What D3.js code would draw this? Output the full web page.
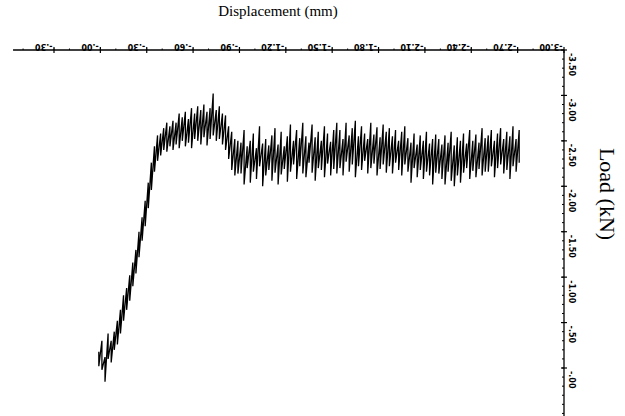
<!DOCTYPE html>
<html lang="en">
<head>
    <meta charset="UTF-8">
    <title>Load vs Displacement</title>
    <script src="https://d3js.org/d3.v7.min.js"></script>
    <style>
        body { margin: 0; background: #fff; }
        svg { display: block; }
    </style>
</head>
<body>
    <div id="chart"></div>

    <script>
        // tick values and the labels as printed (plot is shown rotated)
        var xTickValues = [0.30, 0, -0.30, -0.60, -0.90, -1.20, -1.50, -1.80, -2.10, -2.40, -2.70, -3.00];
        var xTickLabels = ["-.30", "-.00", "-.30", "-.60", "-.90", "-1.20", "-1.50", "-1.80", "-2.10", "-2.40", "-2.70", "-3.00"];
        var yTickValues = [-3.50, -3.00, -2.50, -2.00, -1.50, -1.00, -0.50, 0];
        var yTickLabels = ["-3.50", "-3.00", "-2.50", "-2.00", "-1.50", "-1.00", "-.50", "-.00"];

        // displacement (mm) of each recorded column
        var displacement = [
            0.01, -0.01, -0.03, -0.05, -0.07, -0.09,
            -0.11, -0.13, -0.15, -0.17, -0.19, -0.21, -0.23, -0.25, -0.27, -0.29, -0.31, -0.33, -0.35, -0.37,
            -0.39, -0.41, -0.43, -0.45, -0.47, -0.49, -0.51, -0.53, -0.55, -0.57, -0.59, -0.61, -0.63, -0.65, -0.67, -0.69, -0.71, -0.73,
            -0.75, -0.77, -0.79, -0.81, -0.83, -0.85, -0.87, -0.89,
            -0.91, -0.93, -0.95, -0.97, -0.99, -1.01, -1.03, -1.05, -1.07, -1.09, -1.11, -1.13, -1.15, -1.17, -1.19, -1.21,
            -1.23, -1.25, -1.27, -1.29, -1.31, -1.33, -1.35, -1.37, -1.39, -1.41, -1.43, -1.45, -1.47, -1.49, -1.51, -1.53,
            -1.55, -1.57, -1.59, -1.61, -1.63, -1.65, -1.67, -1.69, -1.71, -1.73, -1.75, -1.77, -1.79, -1.81, -1.83, -1.85,
            -1.87, -1.89, -1.91, -1.93, -1.95, -1.97, -1.99, -2.01, -2.03, -2.05, -2.07, -2.09, -2.11, -2.13, -2.15, -2.17,
            -2.19, -2.21, -2.23, -2.25, -2.27, -2.29, -2.31, -2.33, -2.35, -2.37, -2.39, -2.41, -2.43, -2.45, -2.47, -2.49,
            -2.51, -2.53, -2.55, -2.57, -2.59, -2.61, -2.63, -2.65, -2.67, -2.69, -2.71
        ];

        // most negative load (kN) reached in each column (top of the noisy band)
        var loadHigh = [
            -0.18, -0.30, -0.12, -0.38, -0.30, -0.40,
            -0.52, -0.64, -0.80, -0.88, -1.02, -1.16, -1.30, -1.50, -1.66, -1.84, -2.04, -2.26, -2.44, -2.56,
            -2.58, -2.64, -2.70, -2.66, -2.72, -2.70, -2.80, -2.76, -2.82, -2.74, -2.86, -2.80, -2.88, -2.84, -2.90, -2.82, -2.86, -3.02,
            -2.84, -2.88, -2.80, -2.78, -2.66, -2.60, -2.52, -2.50,
            -2.48, -2.62, -2.44, -2.50, -2.58, -2.42, -2.66, -2.47, -2.52, -2.45, -2.56, -2.64, -2.46, -2.60, -2.44, -2.55,
            -2.68, -2.50, -2.62, -2.53, -2.70, -2.55, -2.48, -2.68, -2.54, -2.60, -2.50, -2.66, -2.58, -2.49, -2.62, -2.70,
            -2.62, -2.52, -2.70, -2.56, -2.64, -2.72, -2.55, -2.66, -2.58, -2.52, -2.70, -2.57, -2.65, -2.54, -2.68, -2.60,
            -2.64, -2.55, -2.62, -2.50, -2.60, -2.66, -2.53, -2.48, -2.58, -2.46, -2.56, -2.50, -2.60, -2.47, -2.52, -2.57,
            -2.52, -2.46, -2.56, -2.48, -2.60, -2.45, -2.54, -2.50, -2.58, -2.47, -2.62, -2.50, -2.57, -2.48, -2.64, -2.53,
            -2.56, -2.62, -2.50, -2.58, -2.64, -2.52, -2.60, -2.55, -2.66, -2.52, -2.62
        ];

        // least negative load (kN) in each column (bottom of the band)
        var loadLow = [
            -0.02, 0.02, 0.15, -0.10, -0.06, -0.20,
            -0.26, -0.38, -0.52, -0.64, -0.74, -0.90, -1.04, -1.22, -1.40, -1.56, -1.76, -1.96, -2.16, -2.28,
            -2.34, -2.40, -2.38, -2.44, -2.40, -2.46, -2.42, -2.50, -2.44, -2.48, -2.42, -2.52, -2.50, -2.46, -2.54, -2.45, -2.52, -2.56,
            -2.50, -2.52, -2.46, -2.40, -2.30, -2.18, -2.12, -2.14,
            -2.14, -2.02, -2.20, -2.04, -2.16, -2.08, -2.22, -2.00, -2.12, -2.18, -2.06, -2.15, -2.02, -2.13, -2.19, -2.05,
            -2.16, -2.24, -2.08, -2.22, -2.14, -2.10, -2.26, -2.15, -2.06, -2.20, -2.18, -2.10, -2.25, -2.12, -2.19, -2.14,
            -2.20, -2.12, -2.27, -2.16, -2.24, -2.10, -2.22, -2.18, -2.28, -2.14, -2.20, -2.25, -2.12, -2.19, -2.24, -2.15,
            -2.22, -2.14, -2.26, -2.18, -2.12, -2.24, -2.16, -2.04, -2.20, -2.10, -2.18, -2.08, -2.16, -2.12, -2.02, -2.15,
            -2.14, -2.08, -2.02, -2.16, -2.06, -2.00, -2.12, -2.04, -2.15, -2.20, -2.08, -2.17, -2.10, -2.19, -2.12, -2.16,
            -2.16, -2.22, -2.10, -2.20, -2.24, -2.14, -2.18, -2.08, -2.22, -2.16, -2.26
        ];

        var width = 625;
        var height = 416;

        var svg = d3.select("#chart")
            .append("svg")
            .attr("width", width)
            .attr("height", height);

        svg.append("rect").attr("width", width).attr("height", height).attr("fill", "#fff");

        // displacement runs right-to-left, load runs bottom-to-top (negative up)
        var x = d3.scaleLinear().domain([0.30, -3.00]).range([54, 564]);
        var y = d3.scaleLinear().domain([0, -3.50]).range([368, 50]);

        var axisY = y(-3.50);
        var axisX = x(-3.00);
        var tickFont = "'DejaVu Sans', sans-serif";

        // top axis (displacement)
        svg.append("line")
            .attr("x1", x(0.565)).attr("x2", axisX)
            .attr("y1", axisY).attr("y2", axisY)
            .attr("stroke", "#000").attr("stroke-width", 1.3);

        svg.selectAll(".xminor")
            .data(d3.range(0.5, -3.0, -0.1))
            .enter().append("line")
            .attr("x1", function(d) { return x(d); })
            .attr("x2", function(d) { return x(d); })
            .attr("y1", axisY).attr("y2", axisY - 1.5)
            .attr("stroke", "#000").attr("stroke-width", 1);

        svg.selectAll(".xtick")
            .data(xTickValues)
            .enter().append("line")
            .attr("x1", function(d) { return x(d); })
            .attr("x2", function(d) { return x(d); })
            .attr("y1", axisY - 3).attr("y2", axisY + 3)
            .attr("stroke", "#000").attr("stroke-width", 1.2);

        svg.selectAll(".xlabel")
            .data(xTickValues)
            .enter().append("text")
            .attr("transform", function(d) { return "translate(" + (x(d) - 1.5) + "," + (axisY - 6.5) + ") rotate(180)"; })
            .attr("text-anchor", "start")
            .attr("font-family", tickFont)
            .attr("font-weight", "bold")
            .attr("font-size", 8)
            .text(function(d, i) { return xTickLabels[i]; });

        // right axis (load)
        svg.append("line")
            .attr("x1", axisX).attr("x2", axisX)
            .attr("y1", axisY).attr("y2", height)
            .attr("stroke", "#000").attr("stroke-width", 1.3);

        svg.selectAll(".yminor")
            .data(d3.range(0.5, -3.5, -0.1))
            .enter().append("line")
            .attr("x1", axisX - 2).attr("x2", axisX)
            .attr("y1", function(d) { return y(d); })
            .attr("y2", function(d) { return y(d); })
            .attr("stroke", "#000").attr("stroke-width", 1);

        svg.selectAll(".ytick")
            .data(yTickValues)
            .enter().append("line")
            .attr("x1", axisX - 3).attr("x2", axisX + 3)
            .attr("y1", function(d) { return y(d); })
            .attr("y2", function(d) { return y(d); })
            .attr("stroke", "#000").attr("stroke-width", 1.2);

        svg.selectAll(".ylabel")
            .data(yTickValues)
            .enter().append("text")
            .attr("transform", function(d) { return "translate(" + (axisX + 5) + "," + (y(d) + 3) + ") rotate(90)"; })
            .attr("text-anchor", "start")
            .attr("font-family", tickFont)
            .attr("font-weight", "bold")
            .attr("font-size", 8)
            .text(function(d, i) { return yTickLabels[i]; });

        // titles
        svg.append("text")
            .attr("x", 278).attr("y", 16)
            .attr("text-anchor", "middle")
            .attr("font-family", "'Liberation Serif', 'Times New Roman', serif")
            .attr("font-size", 15)
            .text("Displacement (mm)");

        svg.append("text")
            .attr("transform", "translate(600,194) rotate(90)")
            .attr("text-anchor", "middle")
            .attr("font-family", "'Liberation Serif', 'Times New Roman', serif")
            .attr("font-size", 22)
            .text("Load (kN)");

        // the load trace: in each column the pen sweeps from the top of the band to the bottom
        var points = [];
        displacement.forEach(function(d, i) {
            points.push([d, loadHigh[i]]);
            points.push([d, loadLow[i]]);
        });

        var line = d3.line()
            .x(function(d) { return x(d[0]); })
            .y(function(d) { return y(d[1]); });

        svg.append("path")
            .datum(points)
            .attr("fill", "none")
            .attr("stroke", "#000")
            .attr("stroke-width", 1.3)
            .attr("stroke-linejoin", "miter")
            .attr("d", line);
    </script>
</body>
</html>
